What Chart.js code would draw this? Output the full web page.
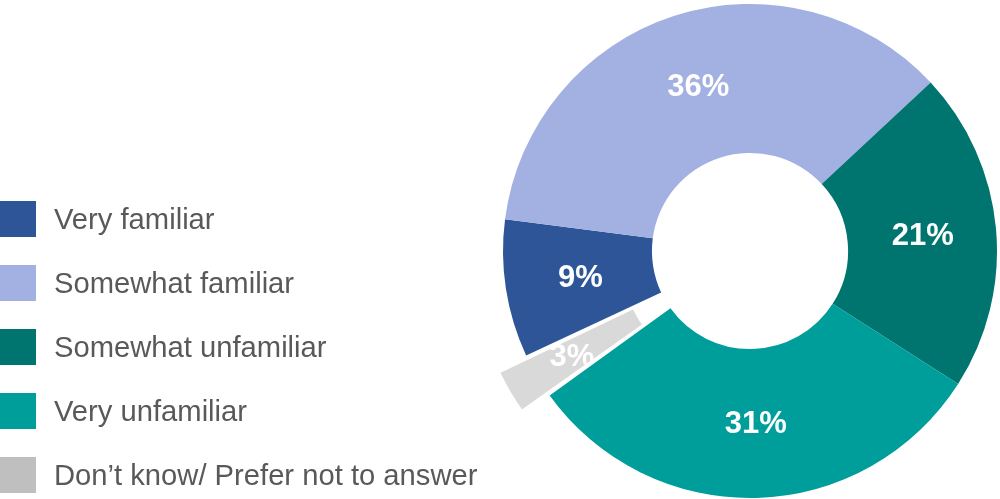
<!DOCTYPE html>
<html lang="en">
<head>
<meta charset="utf-8">
<title>Familiarity</title>
<script src="https://cdn.jsdelivr.net/npm/chart.js@4/dist/chart.umd.min.js"></script>
<style>
    html, body {
        margin: 0;
        padding: 0;
        background: #ffffff;
        overflow: hidden;
    }
    .wrap {
        position: relative;
        width: 1000px;
        height: 499px;
    }
    #familiarityChart {
        position: absolute;
        left: 0;
        top: 0;
    }
    .legend {
        position: absolute;
        left: 0;
        top: 0;
        margin: 0;
        padding: 0;
        list-style: none;
        font-family: "Liberation Sans", Arial, sans-serif;
        font-size: 29.2px;
        color: #595959;
    }
    .legend li {
        position: absolute;
        left: 0;
        height: 36px;
        display: flex;
        align-items: center;
        white-space: nowrap;
    }
    .legend .swatch {
        width: 36px;
        height: 36px;
        margin-right: 18px;
        flex: none;
    }
</style>
</head>
<body>
<div class="wrap">
    <canvas id="familiarityChart" width="1000" height="499"></canvas>
    <ul class="legend" id="legend"></ul>
</div>

<script>
// ==========================================
// DATA
// ==========================================
const categories = [
    'Very familiar',
    'Somewhat familiar',
    'Somewhat unfamiliar',
    'Very unfamiliar',
    'Don\u2019t know/ Prefer not to answer'
];
const shares = [9, 36, 21, 31, 3];
const sliceColors = ['#2E5597', '#A2B0E2', '#00756F', '#009E9B', '#D9D9D9'];
const swatchColors = ['#2E5597', '#A2B0E2', '#00756F', '#009E9B', '#BFBFBF'];
// only the last slice (don't know) is pulled out of the ring
const sliceOffsets = [0, 0, 0, 0, 70];
const sliceBorders = [0, 0, 0, 0, 2];

// ==========================================
// PLUGIN: percent labels in the middle of each slice
// ==========================================
const sliceLabels = {
    id: 'sliceLabels',
    afterDatasetsDraw(chart) {
        const ctx = chart.ctx;
        const meta = chart.getDatasetMeta(0);
        ctx.save();
        ctx.fillStyle = '#ffffff';
        ctx.font = 'bold 31px "Liberation Sans", Arial, sans-serif';
        ctx.textAlign = 'center';
        ctx.textBaseline = 'middle';
        meta.data.forEach((arc, i) => {
            const pos = arc.tooltipPosition();
            ctx.fillText(shares[i] + '%', pos.x + 1, pos.y + 1);
        });
        ctx.restore();
    }
};

document.addEventListener('DOMContentLoaded', () => {

    // legend on the left
    const legend = document.getElementById('legend');
    const rowTops = 201;
    const rowStep = 64;
    categories.forEach((name, i) => {
        const li = document.createElement('li');
        li.style.top = (rowTops + i * rowStep) + 'px';
        const sw = document.createElement('span');
        sw.className = 'swatch';
        sw.style.background = swatchColors[i];
        const txt = document.createElement('span');
        txt.textContent = name;
        li.appendChild(sw);
        li.appendChild(txt);
        legend.appendChild(li);
    });

    // doughnut on the right
    const ctx = document.getElementById('familiarityChart');
    new Chart(ctx, {
        type: 'doughnut',
        data: {
            labels: categories,
            datasets: [{
                data: shares,
                backgroundColor: sliceColors,
                offset: sliceOffsets,
                hoverOffset: 0,
                borderWidth: sliceBorders,
                borderColor: '#ffffff'
            }]
        },
        options: {
            responsive: false,
            animation: false,
            rotation: 245,
            radius: 247,
            cutout: '39.7%',
            layout: {
                padding: { left: 500, right: 0, top: 3, bottom: 0 }
            },
            plugins: {
                legend: { display: false },
                tooltip: { enabled: false }
            }
        },
        plugins: [sliceLabels]
    });
});
</script>
</body>
</html>
